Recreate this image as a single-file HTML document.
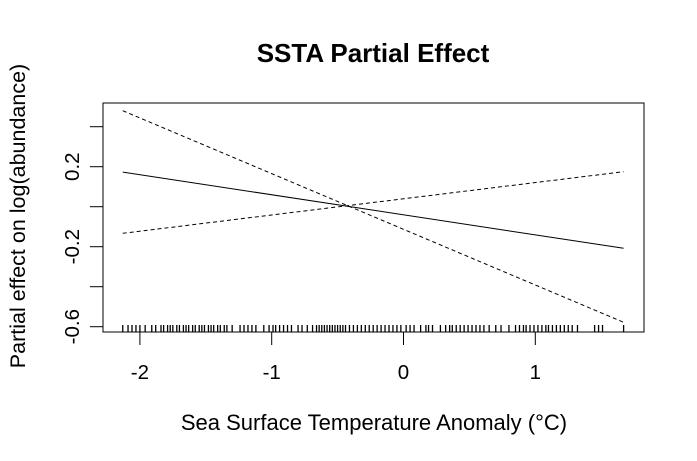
<!DOCTYPE html>
<html><head><meta charset="utf-8"><style>
html,body{margin:0;padding:0;background:#fff;}
svg{display:block;font-family:"Liberation Sans",Arial,sans-serif;}
</style></head><body>
<svg id="chart" width="697" height="461" viewBox="0 0 697 461">
<text x="373" y="62" text-anchor="middle" font-size="26" font-weight="bold">SSTA Partial Effect</text>
<text x="374" y="430" text-anchor="middle" font-size="22">Sea Surface Temperature Anomaly (°C)</text>
<text transform="translate(25,216) rotate(-90)" text-anchor="middle" font-size="21.5">Partial effect on log(abundance)</text>
<rect x="103" y="103" width="541" height="229" fill="none" stroke="#000" stroke-width="1"/>
<g id="axes"></g>
<g id="rug"></g>
<g id="lines"></g>
</svg>
<script>
const xTicks=[-2,-1,0,1];
const xTickLabels=["-2","-1","0","1"];
const yTicks=[-0.6,-0.4,-0.2,0,0.2,0.4];
const yTickLabels=["-0.6","","-0.2","","0.2",""];
const xRange=[-2.13,1.67];
const fitValues=[0.173,-0.208];
const upperValues=[0.48,-0.578];
const lowerValues=[-0.133,0.175];
const rugValues=[-2.13,-2.09,-2.06,-2.03,-2.00,-1.96,-1.91,-1.88,-1.84,-1.82,-1.79,-1.77,-1.75,-1.72,-1.70,-1.67,-1.65,-1.63,-1.60,-1.58,-1.55,-1.53,-1.51,-1.48,-1.46,-1.44,-1.41,-1.39,-1.36,-1.34,-1.30,-1.24,-1.21,-1.18,-1.15,-1.12,-1.06,-1.02,-0.99,-0.97,-0.94,-0.91,-0.88,-0.85,-0.80,-0.77,-0.73,-0.69,-0.66,-0.64,-0.62,-0.60,-0.58,-0.56,-0.54,-0.52,-0.50,-0.48,-0.46,-0.44,-0.41,-0.38,-0.35,-0.32,-0.29,-0.26,-0.23,-0.20,-0.17,-0.14,-0.11,-0.08,-0.05,-0.02,0.02,0.05,0.08,0.13,0.17,0.19,0.22,0.28,0.32,0.35,0.37,0.40,0.43,0.46,0.49,0.52,0.55,0.58,0.61,0.65,0.70,0.74,0.80,0.85,0.88,0.91,0.93,0.96,0.99,1.02,1.05,1.08,1.10,1.13,1.16,1.19,1.22,1.25,1.28,1.32,1.45,1.48,1.51,1.67];

const NS="http://www.w3.org/2000/svg";
function X(v){return 403.5+131.8*v;}
function Y(v){return 206.7-200*v;}
function mk(tag,attrs,parent){const e=document.createElementNS(NS,tag);for(const k in attrs)e.setAttribute(k,attrs[k]);parent.appendChild(e);return e;}
const axes=document.getElementById('axes');
xTicks.forEach((t,i)=>{
  const l=mk('line',{x1:X(t),x2:X(t),y1:332,y2:345,stroke:'#000'},axes);
  
  
  const tx=mk('text',{x:X(t),y:379,'text-anchor':'middle','font-size':20.5},axes);
  tx.textContent=xTickLabels[i];
  
  
});
yTicks.forEach((t,i)=>{
  const l=mk('line',{x1:90,x2:103,y1:Y(t),y2:Y(t),stroke:'#000'},axes);
  
  
  if(yTickLabels[i]){
    const tx=mk('text',{transform:`translate(79,${Y(t)}) rotate(-90)`,'text-anchor':'middle','font-size':20.5},axes);
    tx.textContent=yTickLabels[i];
    
    
  }
});
const rug=document.getElementById('rug');
rugValues.forEach(v=>{
  const l=mk('line',{x1:X(v),x2:X(v),y1:325,y2:332,stroke:'#000','stroke-width':1.3},rug);
  
  
});
const lines=document.getElementById('lines');
function series(vals,dash,name){
  const l=mk('line',{x1:X(xRange[0]),y1:Y(vals[0]),x2:X(xRange[1]),y2:Y(vals[1]),stroke:'#000','stroke-width':1,'stroke-dasharray':dash},lines);
  
  
}
series(fitValues,'none','fit-line');
series(upperValues,'4,3','ci-band-a');
series(lowerValues,'4,3','ci-band-b');
</script>
</body></html>
